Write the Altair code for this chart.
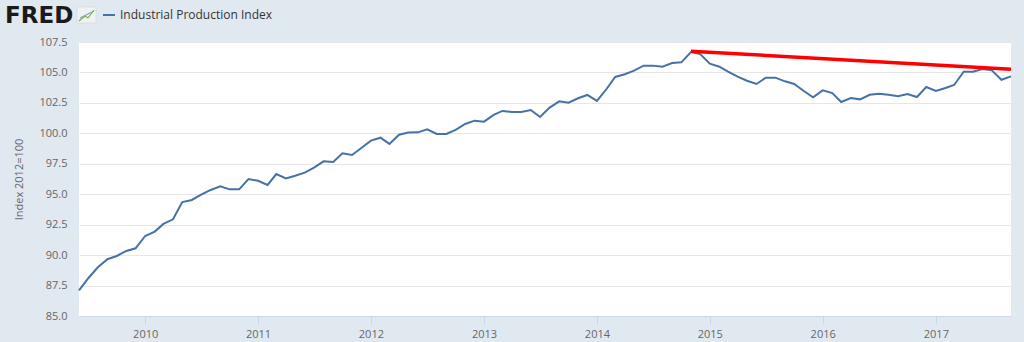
import altair as alt
import pandas as pd

start_month = "2009-06-01"
values = [
    87.1, 88.1, 89.0, 89.66, 89.93, 90.34, 90.56,
    91.57, 91.93, 92.56, 92.94, 94.36, 94.53, 94.97, 95.35, 95.65, 95.4, 95.4, 96.25,
    96.1, 95.76, 96.66, 96.3, 96.52, 96.77, 97.18, 97.7, 97.65, 98.36, 98.22, 98.8,
    99.4, 99.64, 99.13, 99.89, 100.06, 100.08, 100.33, 99.95, 99.95, 100.28, 100.77, 101.04,
    100.96, 101.51, 101.84, 101.75, 101.75, 101.92, 101.34, 102.11, 102.63, 102.52, 102.88, 103.15,
    102.66, 103.64, 104.63, 104.85, 105.15, 105.56, 105.56, 105.47, 105.78, 105.83, 106.68, 106.51,
    105.72, 105.47, 105.06, 104.65, 104.32, 104.05, 104.57, 104.57, 104.27, 104.05, 103.48, 102.96,
    103.53, 103.31, 102.57, 102.9, 102.79, 103.17, 103.26, 103.17, 103.04, 103.23, 102.98, 103.8,
    103.48, 103.72, 103.97, 105.06, 105.06, 105.28, 105.17, 104.4, 104.68,
]
dates = pd.date_range(start_month, periods=len(values), freq="MS")

trend_dates = ["2014-11-01", "2017-09-01"]
trend_values = [106.74, 105.26]

y_ticks = [85.0, 87.5, 90.0, 92.5, 95.0, 97.5, 100.0, 102.5, 105.0, 107.5]
x_years = [2010, 2011, 2012, 2013, 2014, 2015, 2016, 2017]

series = pd.DataFrame({"date": dates.strftime("%Y-%m-%d"), "value": values})
trend = pd.DataFrame({"date": trend_dates, "value": trend_values})

BG = "#e1e9f0"
x_scale = alt.Scale(type="utc", domain=[alt.DateTime(year=2009, month=6, date=1, utc=True),
                                         alt.DateTime(year=2017, month=9, date=1, utc=True)], nice=False)
y_scale = alt.Scale(domain=[85, 107.5], nice=False, zero=False)

x_axis = alt.Axis(
    title=None,
    values=[alt.DateTime(year=y, month=1, date=1, utc=True) for y in x_years],
    format="%Y", formatType="utc",
    grid=False, domainColor="#ccd6eb", tickColor="#ccd6eb", tickSize=8,
    labelColor="#666666", labelFontSize=11, labelFont="Open Sans", labelPadding=4,
)
y_axis = alt.Axis(
    title="Index 2012=100", titleColor="#666666", titleFont="Open Sans", titleFontSize=11,
    titleFontWeight="normal", titlePadding=14,
    values=y_ticks, format=".1f", domain=False, ticks=False,
    gridColor="#e6e6e6", labelColor="#666666", labelFontSize=11, labelFont="Open Sans",
    labelPadding=12,
)

base_line = alt.Chart(series).mark_line(color="#4572a7", strokeWidth=2).encode(
    x=alt.X("date:T", scale=x_scale, axis=x_axis),
    y=alt.Y("value:Q", scale=y_scale, axis=y_axis),
)
trend_line = alt.Chart(trend).mark_line(color="#ff0000", strokeWidth=3.5).encode(
    x=alt.X("date:T", scale=x_scale, axis=x_axis),
    y=alt.Y("value:Q", scale=y_scale, axis=y_axis),
)

hdr = pd.DataFrame({"k": [0]})
logo = alt.Chart(hdr).mark_text(
    text="FRED", font="DejaVu Sans", fontWeight="bold", fontSize=23, align="left",
    baseline="middle", color="#1a1a1a",
).encode(x=alt.value(-74), y=alt.value(-26))
icon_box = alt.Chart(hdr).mark_rect(fill="#eef2f5", stroke="#c8d2da", strokeWidth=0.5).encode(
    x=alt.value(-2), x2=alt.value(17), y=alt.value(-35), y2=alt.value(-19))
icon_seg1 = alt.Chart(hdr).mark_rule(color="#7cb342", strokeWidth=1.2).encode(
    x=alt.value(0), x2=alt.value(6), y=alt.value(-21), y2=alt.value(-26))
icon_seg2 = alt.Chart(hdr).mark_rule(color="#7cb342", strokeWidth=1.2).encode(
    x=alt.value(6), x2=alt.value(9), y=alt.value(-26), y2=alt.value(-24))
icon_seg3 = alt.Chart(hdr).mark_rule(color="#7cb342", strokeWidth=1.2).encode(
    x=alt.value(9), x2=alt.value(15), y=alt.value(-24), y2=alt.value(-32))
icon_seg4 = alt.Chart(hdr).mark_rule(color="#6a8fc0", strokeWidth=1).encode(
    x=alt.value(1), x2=alt.value(15), y=alt.value(-24), y2=alt.value(-31))
legend_rule = alt.Chart(hdr).mark_rule(color="#4572a7", strokeWidth=2).encode(
    x=alt.value(24), x2=alt.value(36), y=alt.value(-27))
legend_text = alt.Chart(hdr).mark_text(
    text="Industrial Production Index", font="Open Sans", fontSize=12, align="left",
    baseline="middle", color="#333333",
).encode(x=alt.value(41), y=alt.value(-27))

chart = alt.layer(
    base_line, trend_line, logo, icon_box, icon_seg4, icon_seg1, icon_seg2, icon_seg3,
    legend_rule, legend_text
).properties(
    width=932, height=274,
    autosize=alt.AutoSizeParams(type="none"),
    padding={"left": 79, "top": 42, "right": 13, "bottom": 26},
    background=BG,
).configure_view(fill="white", stroke=None)

chart.save("out.html", embed_options={"renderer": "svg", "actions": False})
